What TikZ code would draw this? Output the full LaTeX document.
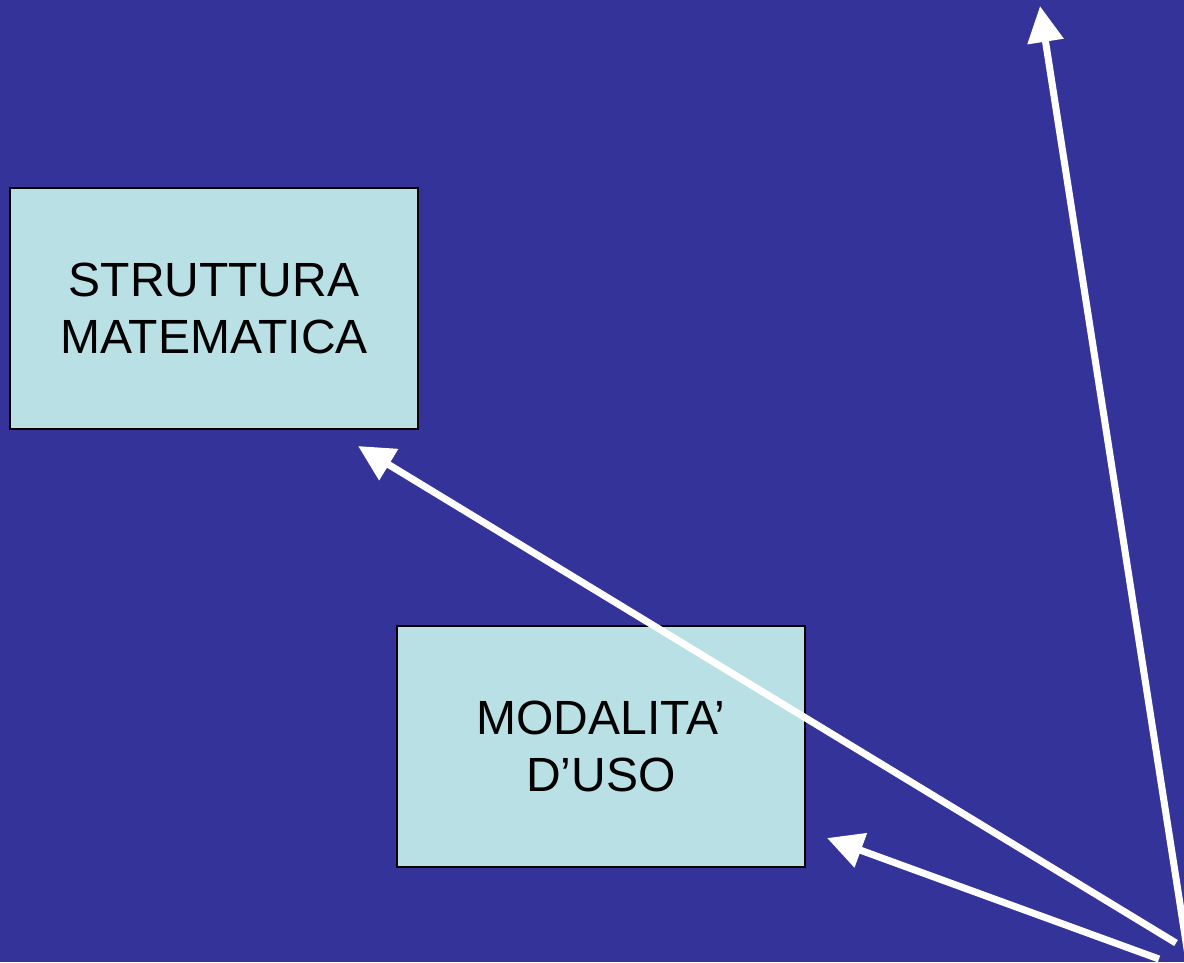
\documentclass[tikz,border=0pt]{standalone}
\usepackage{fontspec}
\setmainfont{Liberation Sans}
\usetikzlibrary{arrows.meta}
\definecolor{bg}{HTML}{333399}
\definecolor{boxfill}{HTML}{B9E0E4}
\begin{document}
\begin{tikzpicture}[x=1pt,y=-1pt,
  box/.style={draw=black, line width=2pt, fill=boxfill, minimum width=408pt, minimum height=241pt,
    align=center, font=\fontsize{48}{57}\selectfont, inner sep=0pt},
  arr/.style={draw=white, line width=7pt, -{Triangle[length=36pt,width=35pt]}}]
\useasboundingbox[fill=bg] (0,0) rectangle (1184,962);
\node[box] (struttura) at (214,308) {STRUTTURA\\MATEMATICA};
\node[box] (modalita) at (601,746.5) {MODALITA’\\D’USO};
\coordinate (t1) at (1195,1000);
\coordinate (h1) at (1040,6);
\coordinate (t2) at (1176,943);
\coordinate (h2) at (358,446);
\coordinate (t3) at (1159,959);
\coordinate (h3) at (827,838);
\draw[arr] (t1) -- (h1);
\draw[arr] (t2) -- (h2);
\draw[arr] (t3) -- (h3);
\end{tikzpicture}
\end{document}
